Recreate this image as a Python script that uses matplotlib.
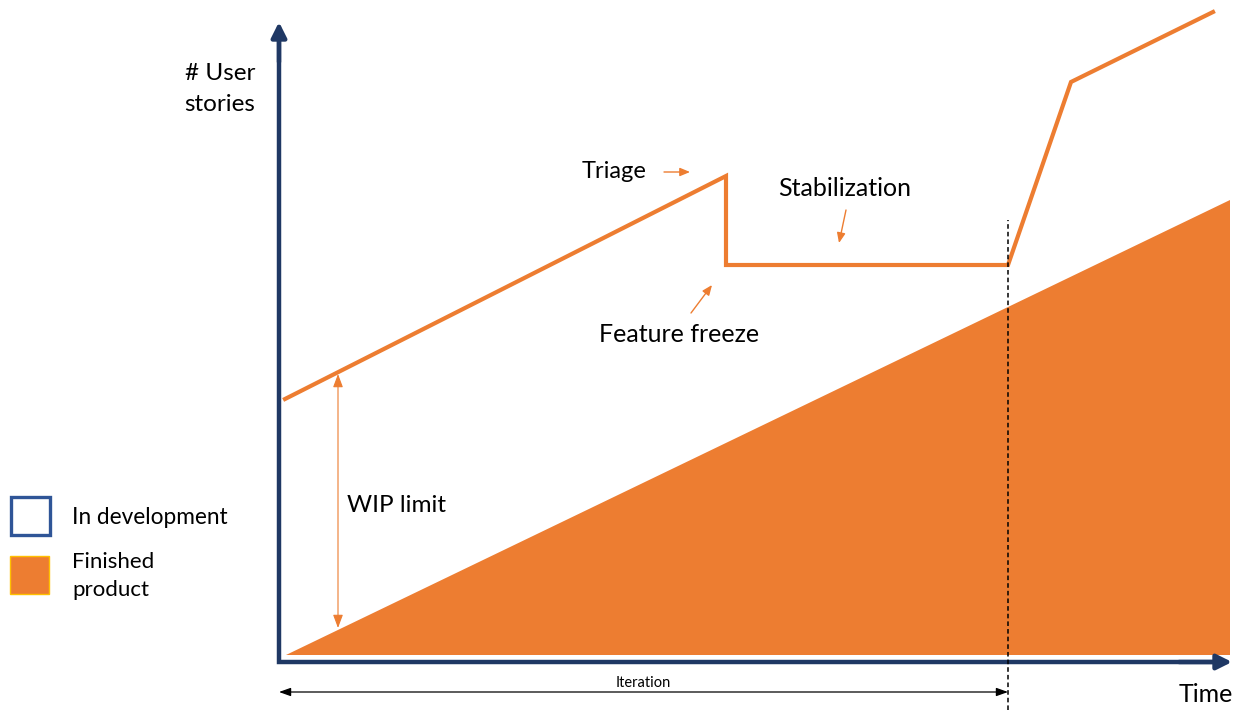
import matplotlib
matplotlib.use("Agg")
import matplotlib.pyplot as plt
from matplotlib.patches import Rectangle, Polygon

plt.rcParams["font.family"] = ["Lato", "DejaVu Sans"]

ORANGE = "#ED7D31"
NAVY = "#1F3864"
LEGEND_BLUE = "#2F5597"

# Finished product: grows linearly over time
finished_time = [7, 951, 951]
finished_stories = [7, 7, 462]

# Stories in development (WIP line)
wip_time = [6, 447, 447, 729, 792, 934]
wip_stories = [263, 486, 397, 397, 580, 650]

# End of the iteration
iteration_end = 729

fig = plt.figure(figsize=(12.43, 7.10), dpi=100)
ax = fig.add_axes([0, 0, 1, 1])
ax.set_xlim(-279, 964)
ax.set_ylim(-48, 662)
ax.axis("off")

# Finished product area
ax.add_patch(Polygon(list(zip(finished_time, finished_stories)), closed=True,
                     facecolor=ORANGE, edgecolor="none", zorder=2))

# WIP line
ax.plot(wip_time, wip_stories, color=ORANGE, lw=3.0, solid_joinstyle="miter", zorder=3)

# Axes with arrow heads
ax.plot([0, 0, 940], [630, 0, 0], color=NAVY, lw=3.2, solid_joinstyle="miter",
        solid_capstyle="projecting", zorder=4)
ax.annotate("", xy=(0, 640), xytext=(0, 600),
            arrowprops=dict(arrowstyle="-|>,head_length=0.9,head_width=0.45",
                            color=NAVY, lw=3.2, shrinkA=0, shrinkB=0), zorder=4)
ax.annotate("", xy=(953, 0), xytext=(900, 0),
            arrowprops=dict(arrowstyle="-|>,head_length=0.9,head_width=0.45",
                            color=NAVY, lw=3.2, shrinkA=0, shrinkB=0), zorder=4)

# End-of-iteration marker
ax.plot([iteration_end, iteration_end], [-48, 442], color="black", lw=1.1,
        ls=(0, (3, 2)), zorder=5)

# Iteration span
ax.annotate("", xy=(0, -30), xytext=(iteration_end, -30),
            arrowprops=dict(arrowstyle="<|-|>,head_length=0.7,head_width=0.25",
                            color="black", lw=0.9, shrinkA=0, shrinkB=0))
ax.text(iteration_end / 2, -21, "Iteration", ha="center", va="center", fontsize=10.5)

# WIP limit span
ax.annotate("", xy=(59, 288), xytext=(59, 34),
            arrowprops=dict(arrowstyle="<|-|>,head_length=0.8,head_width=0.3",
                            color=ORANGE, lw=0.8, shrinkA=0, shrinkB=0), zorder=4)
ax.text(68, 157, "WIP limit", ha="left", va="center", fontsize=17.5)

# Annotations
small_arrow = dict(arrowstyle="-|>,head_length=0.6,head_width=0.25",
                   color=ORANGE, lw=1.0, shrinkA=0, shrinkB=0)
ax.text(335, 490, "Triage", ha="center", va="center", fontsize=17)
ax.annotate("", xy=(411, 490), xytext=(385, 490), arrowprops=small_arrow)
ax.text(566, 473, "Stabilization", ha="center", va="center", fontsize=18)
ax.annotate("", xy=(560, 419), xytext=(567, 452), arrowprops=small_arrow)
ax.text(400, 327, "Feature freeze", ha="center", va="center", fontsize=18)
ax.annotate("", xy=(433, 377), xytext=(412, 349), arrowprops=small_arrow)

# Axis titles
ax.text(-24, 573, "# User\nstories", ha="right", va="center", fontsize=17.5,
        linespacing=1.62)
ax.text(954, -33, "Time", ha="right", va="center", fontsize=18)

# Legend
ax.add_patch(Rectangle((-268, 127), 39, 38, facecolor="white",
                       edgecolor=LEGEND_BLUE, lw=2.4, zorder=4))
ax.add_patch(Rectangle((-269, 68), 39, 38, facecolor=ORANGE,
                       edgecolor="#FFC000", lw=1.0, zorder=4))
ax.text(-207, 145, "In development", ha="left", va="center", fontsize=16.3)
ax.text(-207, 86, "Finished\nproduct", ha="left", va="center", fontsize=16,
        linespacing=1.45)

fig.savefig("out.png", dpi=100)
